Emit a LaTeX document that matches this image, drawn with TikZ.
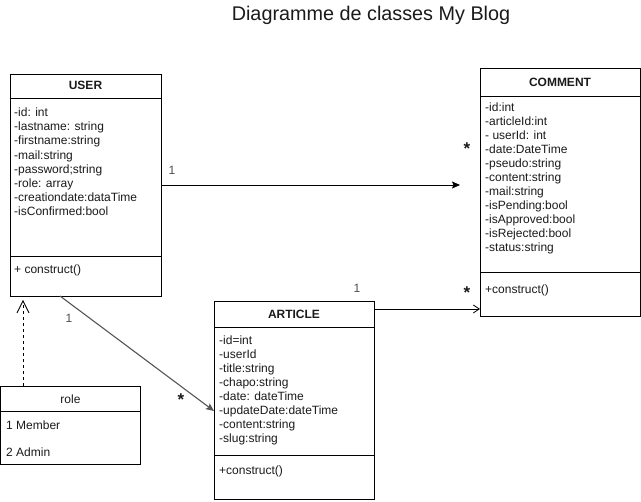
\documentclass[tikz,border=0pt]{standalone}
\usepackage{fontspec}
\setmainfont{Liberation Sans}
\usetikzlibrary{arrows.meta,calc}
\definecolor{txt}{HTML}{1A1A1A}
\definecolor{lblc}{HTML}{4D4D4D}
\definecolor{greyline}{HTML}{555555}
\tikzset{
  cls/.style={draw, line width=0.8pt, inner sep=0pt, outer sep=0pt, anchor=north west},
  hdr/.style={font=\bfseries\fontsize{12}{14}\selectfont, anchor=base, inner sep=0pt, text=txt},
  rolehdr/.style={font=\fontsize{12}{14}\selectfont, anchor=base, inner sep=0pt, text=txt},
  attr/.style={font=\fontsize{12}{14}\selectfont, anchor=base west, inner sep=0pt, text=txt},
  lbl/.style={font=\fontsize{12}{14}\selectfont, inner sep=0pt, text=lblc},
  star/.style={font=\bfseries\fontsize{17}{20}\selectfont, anchor=base, inner sep=0pt, text=txt},
  divider/.style={line width=0.8pt},
  conn/.style={line width=0.8pt},
}
\begin{document}
\begin{tikzpicture}[x=1pt,y=-1pt]
\useasboundingbox (0,0) rectangle (641,502);

% title
\node[font=\fontsize{19.8}{23}\selectfont, anchor=base, inner sep=0pt, text=txt] (title) at (371,21) {Diagramme de classes My Blog};

% USER
\node[cls, minimum width=151pt, minimum height=222pt] (user) at (10,74) {};
\node[hdr] (userh) at (85.5,89.5) {USER};
\draw[divider] (10,98) -- (161,98);
\draw[divider] (10,256) -- (161,256);
\foreach \t [count=\i from 0] in {{-id: int},{-lastname: string},{-firstname:string},{-mail:string},{-password;string},{-role: array},{-creationdate:dataTime},{-isConfirmed:bool}}
  \node[attr] (ua\i) at (14,{116.5+14.2*\i}) {\t};
\node[attr] (um) at (14,274) {+ construct()};

% COMMENT
\node[cls, minimum width=160pt, minimum height=248pt] (comment) at (480,68) {};
\node[hdr] (commenth) at (560,87) {COMMENT};
\draw[divider] (480,96.5) -- (640,96.5);
\draw[divider] (480,272) -- (640,272);
\foreach \t [count=\i from 0] in {{-id:int},{-articleId:int},{- userId: int},{-date:DateTime},{-pseudo:string},{-content:string},{-mail:string},{-isPending:bool},{-isApproved:bool},{-isRejected:bool},{-status:string}}
  \node[attr] (ca\i) at (485,{111.2+14.05*\i}) {\t};
\node[attr] (cm) at (485,294) {+construct()};

% ARTICLE
\node[cls, minimum width=160pt, minimum height=198pt] (article) at (214,301) {};
\node[hdr] (articleh) at (294,319) {ARTICLE};
\draw[divider] (214,327) -- (374,327);
\draw[divider] (214,455) -- (374,455);
\foreach \t [count=\i from 0] in {{-id=int},{-userId},{-title:string},{-chapo:string},{-date: dateTime},{-updateDate:dateTime},{-content:string},{-slug:string}}
  \node[attr] (aa\i) at (219,{345+14*\i}) {\t};
\node[attr] (am) at (219,475) {+construct()};

% role
\node[cls, minimum width=140pt, minimum height=78pt] (role) at (0.5,386) {};
\node[rolehdr] (roleh) at (70.5,403.5) {role};
\draw[divider] (0.5,411) -- (140.5,411);
\node[attr] (r1) at (6,430) {1 Member};
\node[attr] (r2) at (6,456.5) {2 Admin};

% USER -> COMMENT
\coordinate (uc) at (460,185);
\draw[conn, -{Stealth[length=8pt,width=7pt,inset=1.5pt]}] (user.east |- uc) -- (uc);
\node[lbl] (l1) at (172,170) {1};
\node[star] (s1) at (467,155) {*};

% ARTICLE -> COMMENT
\coordinate (ac) at (0,309);
\draw[conn, -{Straight Barb[length=6pt,width=8pt]}] (article.east |- ac) -- (comment.west |- ac);
\node[lbl] (l2) at (357,288) {1};
\node[star] (s2) at (467,299) {*};

% USER -> ARTICLE
\coordinate (ua) at ($(user.south west)+(50,0)$);
\coordinate (ua2) at (0,411);
\draw[conn, greyline, line width=1.1pt, -{Stealth[length=8pt,width=7pt,inset=1.5pt]}] (ua) -- (article.west |- ua2);
\node[lbl] (l3) at (69,318) {1};
\node[star] (s3) at (181,405.5) {*};

% role -> USER (dashed)
\coordinate (ru) at (23,0);
\draw[conn, dash pattern=on 3pt off 3pt, -{Straight Barb[length=12pt,width=12pt]}, shorten >=4pt] (role.north -| ru) -- (user.south -| ru);
\end{tikzpicture}
\end{document}
